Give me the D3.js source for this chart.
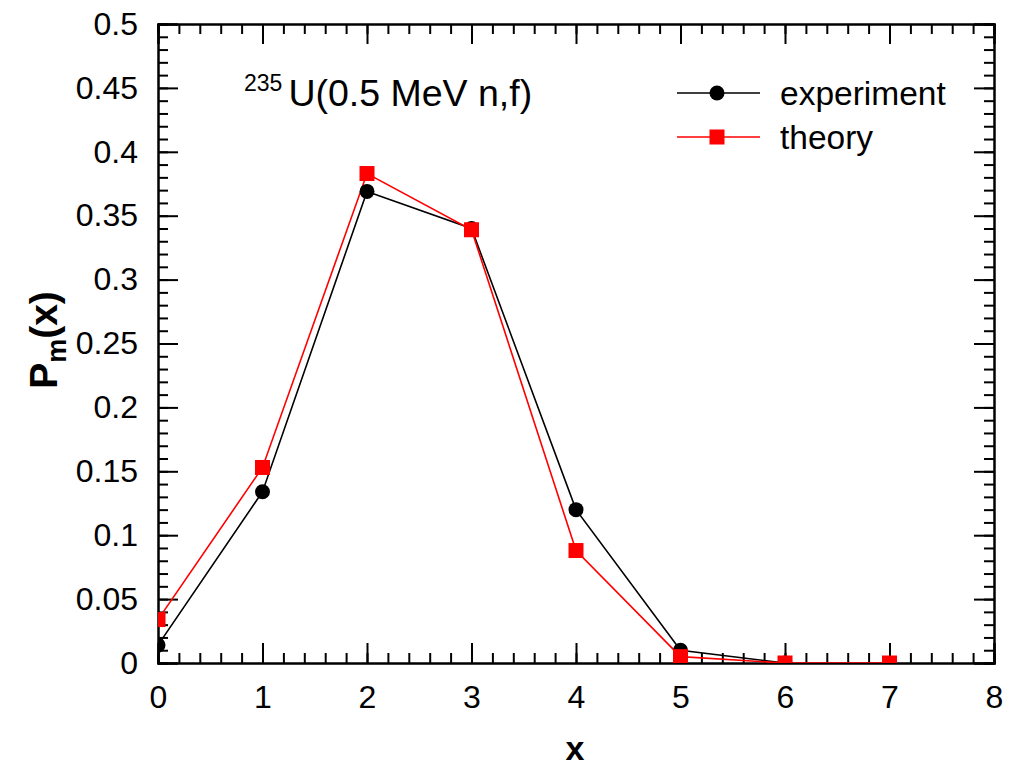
<!DOCTYPE html>
<html><head><meta charset="utf-8">
<script src="https://cdn.jsdelivr.net/npm/d3@7"></script>
<style>body{margin:0;background:#fff}svg{display:block}text{font-family:"Liberation Sans",Arial,Helvetica,sans-serif}</style>
</head><body>
<script>
const xExp = [0,1,2,3,4,5,6];
const yExp = [0.014,0.134,0.369,0.340,0.120,0.010,0.000];
const xTh = [0,1,2,3,4,5,6,7];
const yTh = [0.034,0.153,0.383,0.339,0.088,0.005,0.000,0.000];
const xTicks = [0,1,2,3,4,5,6,7,8];
const yTicks = [0,0.05,0.1,0.15,0.2,0.25,0.3,0.35,0.4,0.45,0.5];
const yTickLabels = ["0","0.05","0.1","0.15","0.2","0.25","0.3","0.35","0.4","0.45","0.5"];
const seriesNames = ["experiment","theory"];

const W=1012,H=769, L=158,R=994,T=24,B=663;
const svg=d3.select("body").append("svg").attr("width",W).attr("height",H);
const x=d3.scaleLinear().domain([0,8]).range([L,R]);
const y=d3.scaleLinear().domain([0,0.5]).range([B,T]);

svg.append("defs").append("clipPath").attr("id","clip").append("rect")
  .attr("x",L).attr("y",T).attr("width",R-L).attr("height",B-T);

const minorX=d3.range(0,8.0001,0.2), minorY=d3.range(0,0.5001,0.01);
const g=svg.append("g");
function addAxis(axis,tr){ return g.append("g").attr("transform",tr).call(axis); }
const fs=32;
const ax=[
  addAxis(d3.axisBottom(x).tickValues(minorX).tickSize(-10).tickFormat(""),`translate(0,${B})`),
  addAxis(d3.axisBottom(x).tickValues(xTicks).tickSize(-20).tickPadding(22).tickFormat(d3.format("d")),`translate(0,${B})`),
  addAxis(d3.axisTop(x).tickValues(minorX).tickSize(-10).tickFormat(""),`translate(0,${T})`),
  addAxis(d3.axisTop(x).tickValues(xTicks).tickSize(-20).tickFormat(""),`translate(0,${T})`),
  addAxis(d3.axisLeft(y).tickValues(minorY).tickSize(-10).tickFormat(""),`translate(${L},0)`),
  addAxis(d3.axisLeft(y).tickValues(yTicks).tickSize(-20).tickPadding(20).tickFormat((d,i)=>yTickLabels[i]),`translate(${L},0)`),
  addAxis(d3.axisRight(y).tickValues(minorY).tickSize(-10).tickFormat(""),`translate(${R},0)`),
  addAxis(d3.axisRight(y).tickValues(yTicks).tickSize(-20).tickFormat(""),`translate(${R},0)`)
];
ax.forEach(a=>{a.selectAll("path.domain").attr("stroke","#000").attr("stroke-width",2);
  a.selectAll(".tick line").attr("stroke","#000").attr("stroke-width",2);
  a.selectAll("text").attr("font-size",fs).attr("fill","#000").attr("font-family",'"Liberation Sans",Arial,sans-serif');});

const plot=svg.append("g").attr("clip-path","url(#clip)");
const line=d3.line().x(d=>x(d[0])).y(d=>y(d[1]));
const expD=xExp.map((v,i)=>[v,yExp[i]]), thD=xTh.map((v,i)=>[v,yTh[i]]);
plot.append("path").datum(expD).attr("d",line).attr("fill","none").attr("stroke","#000").attr("stroke-width",1.6);
plot.append("path").datum(thD).attr("d",line).attr("fill","none").attr("stroke","#f00").attr("stroke-width",1.6);
plot.selectAll("circle.e").data(expD).enter().append("circle").attr("cx",d=>x(d[0])).attr("cy",d=>y(d[1])).attr("r",7.5).attr("fill","#000");
const s=15;
plot.selectAll("rect.t").data(thD).enter().append("rect").attr("x",d=>x(d[0])-s/2).attr("y",d=>y(d[1])-s/2).attr("width",s).attr("height",s).attr("fill","#f00");

// legend
const lg=svg.append("g");
[[93,"#000"],[137,"#f00"]].forEach(([yy,c],i)=>{
  lg.append("line").attr("x1",677).attr("x2",760).attr("y1",yy).attr("y2",yy).attr("stroke",c).attr("stroke-width",1.6);
  if(i===0) lg.append("circle").attr("cx",717).attr("cy",yy).attr("r",7.5).attr("fill",c);
  else lg.append("rect").attr("x",717-s/2).attr("y",yy-s/2).attr("width",s).attr("height",s).attr("fill",c);
  lg.append("text").attr("x",780).attr("y",yy).attr("dy","0.35em").attr("font-size",33.5).text(seriesNames[i]);
});

// title
const t=svg.append("text").attr("x",244).attr("y",106).attr("font-size",37.5);
t.append("tspan").attr("font-size",23).attr("dy",-15).text("235");
t.append("tspan").attr("dy",15).attr("dx",6).text("U(0.5 MeV n,f)");

// axis labels
svg.append("text").attr("x",575).attr("y",760).attr("text-anchor","middle").attr("font-size",34).attr("font-weight","bold").text("x");
const yl=svg.append("text").attr("transform","translate(57,340) rotate(-90)").attr("text-anchor","middle").attr("font-size",39).attr("font-weight","bold");
yl.append("tspan").text("P");
yl.append("tspan").attr("font-size",27).attr("dy",9).text("m");
yl.append("tspan").attr("dy",-9).text("(x)");
</script>
</body></html>
